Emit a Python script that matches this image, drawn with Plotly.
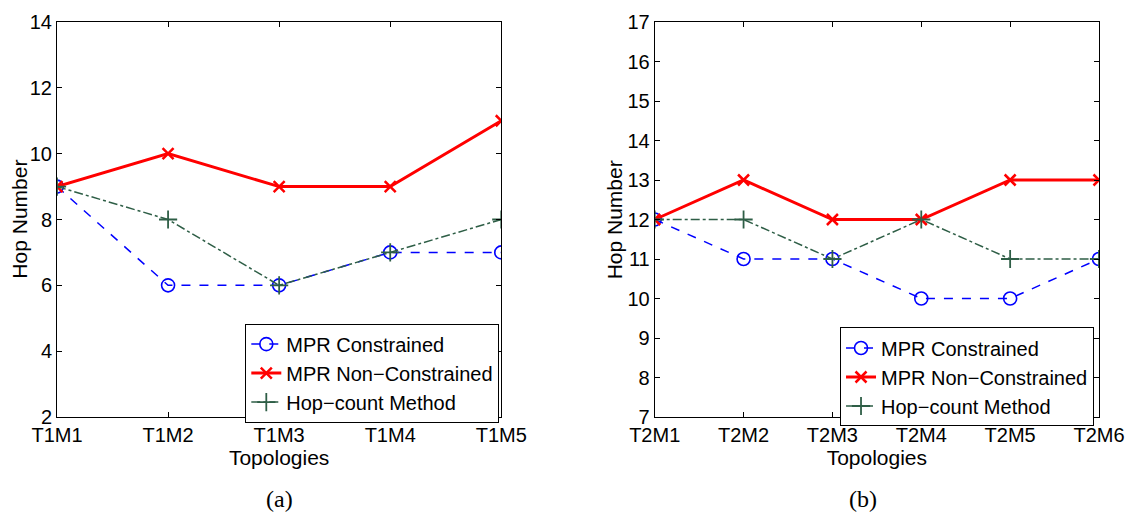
import plotly.graph_objects as go

# ---- data ----
topo_a = ["T1M1", "T1M2", "T1M3", "T1M4", "T1M5"]
a_constrained = [9, 6, 6, 7, 7]
a_nonconstrained = [9, 10, 9, 9, 11]
a_hopcount = [9, 8, 6, 7, 8]

topo_b = ["T2M1", "T2M2", "T2M3", "T2M4", "T2M5", "T2M6"]
b_constrained = [12, 11, 11, 10, 10, 11]
b_nonconstrained = [12, 13, 12, 12, 13, 13]
b_hopcount = [12, 12, 11, 12, 11, 11]

names = ["MPR Constrained", "MPR Non\u2212Constrained", "Hop\u2212count Method"]

BLUE = "#0000FF"
RED = "#FF0000"
GREEN = "#2E5E46"
FONT = "Liberation Sans, Arial, sans-serif"
SERIF = "Liberation Serif, Times New Roman, serif"

fig = go.Figure()

def add_series(x, ys, xa, ya, leg):
    styles = [
        dict(color=BLUE, dash="dash", width=1.5, symbol="circle-open", size=13, mlw=1.6),
        dict(color=RED, dash="solid", width=3, symbol="x-thin-open", size=11, mlw=2.5),
        dict(color=GREEN, dash="dashdot", width=1.5, symbol="cross-thin-open", size=13, mlw=1.8),
    ]
    for name, y, s in zip(names, ys, styles):
        fig.add_trace(go.Scatter(
            x=x, y=y, name=name, mode="lines+markers",
            xaxis=xa, yaxis=ya, legend=leg,
            line=dict(color=s["color"], dash=s["dash"], width=s["width"]),
            marker=dict(symbol=s["symbol"], size=s["size"],
                        color=s["color"], line=dict(color=s["color"], width=s["mlw"])),
        ))

add_series(topo_a, [a_constrained, a_nonconstrained, a_hopcount], "x", "y", "legend")
add_series(topo_b, [b_constrained, b_nonconstrained, b_hopcount], "x2", "y2", "legend2")

L, R, T, B = 57, 33, 11, 105
W, H = 1136, 522
pw = W - L - R
ph = H - T - B

def px2x(px):
    return (px - L) / pw

def py2y(py):
    return 1 - (py - T) / ph

axis_common = dict(
    showline=True, linecolor="black", linewidth=1, mirror="allticks",
    ticks="inside", ticklen=5, tickcolor="black", showgrid=False, zeroline=False,
    tickfont=dict(family=FONT, size=20, color="black"),
)

legend_common = dict(xanchor="right", yanchor="top",
                     bgcolor="white", bordercolor="black", borderwidth=1,
                     font=dict(family=FONT, size=20), tracegroupgap=0, itemwidth=30)

fig.update_layout(
    width=W, height=H,
    margin=dict(l=L, r=R, t=T, b=B),
    paper_bgcolor="white", plot_bgcolor="white",
    font=dict(family=FONT, size=20, color="black"),
    xaxis=dict(domain=[0, px2x(503)], anchor="y", range=[0, 4],
               title=dict(text="Topologies", standoff=0, font=dict(size=21)), **axis_common),
    yaxis=dict(domain=[0, 1], anchor="x", range=[2, 14], tickvals=list(range(2, 15, 2)),
               **axis_common),
    xaxis2=dict(domain=[px2x(657), 1], anchor="y2", range=[0, 5],
                title=dict(text="Topologies", standoff=0, font=dict(size=21)), **axis_common),
    yaxis2=dict(domain=[0, 1], anchor="x2", range=[7, 17], tickvals=list(range(7, 18)),
                **axis_common),
    legend=dict(x=px2x(501), y=py2y(321), **legend_common),
    legend2=dict(x=px2x(1098), y=py2y(325), **legend_common),
    annotations=[
        dict(text="Hop Number", x=px2x(19), y=0.5, xref="paper", yref="paper",
             xanchor="center", yanchor="middle",
             textangle=-90, showarrow=False, font=dict(family=FONT, size=21)),
        dict(text="Hop Number", x=px2x(617), y=0.5, xref="paper", yref="paper",
             xanchor="center", yanchor="middle",
             textangle=-90, showarrow=False, font=dict(family=FONT, size=21)),
        dict(text="(a)", x=px2x(280), y=py2y(501), xref="paper", yref="paper",
             xanchor="center", yanchor="middle",
             showarrow=False, font=dict(family=SERIF, size=24)),
        dict(text="(b)", x=px2x(866), y=py2y(501), xref="paper", yref="paper",
             xanchor="center", yanchor="middle",
             showarrow=False, font=dict(family=SERIF, size=24)),
    ],
)

fig.write_html("out.html")
